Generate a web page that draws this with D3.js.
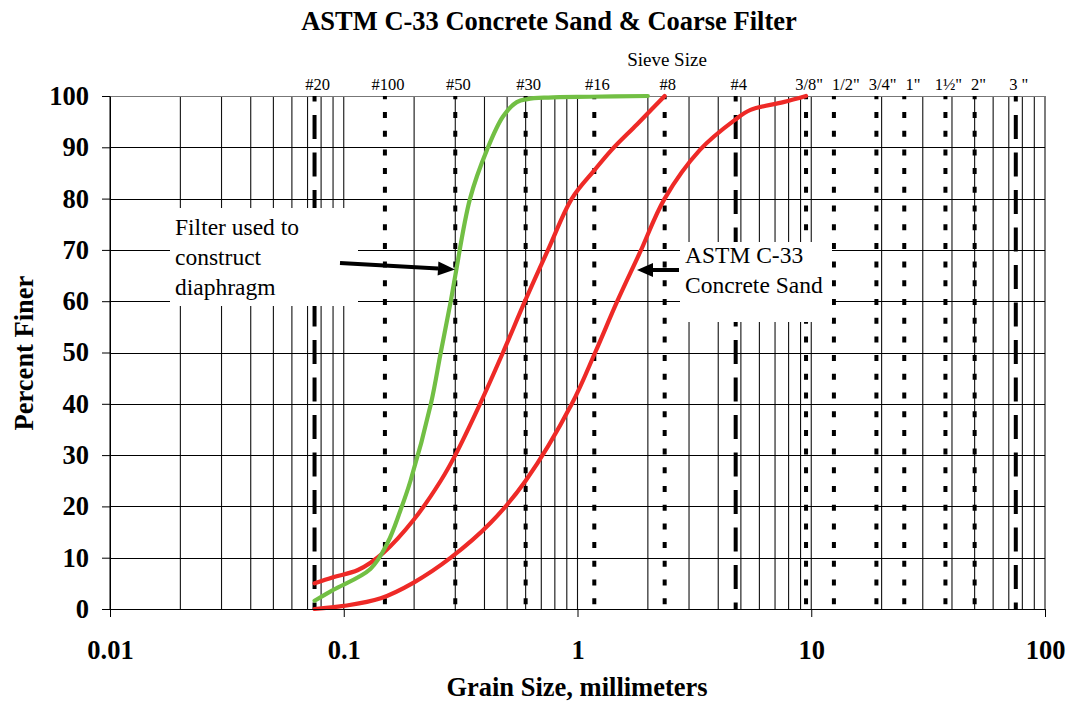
<!DOCTYPE html>
<html>
<head>
<meta charset="utf-8">
<script src="https://cdn.jsdelivr.net/npm/d3@7"></script>
<style>
  html, body { margin: 0; padding: 0; background: #fff; }
  svg { display: block; }
</style>
</head>
<body>
<svg id="chart" width="1068" height="711"></svg>
<script>
// ---------------- data ----------------
const title = "ASTM C-33 Concrete Sand & Coarse Filter";
const xTitle = "Grain Size, millimeters";
const yTitle = "Percent Finer";
const sieveTitle = "Sieve Size";

const xTickValues = [0.01, 0.1, 1, 10, 100];
const xTickLabels = ["0.01", "0.1", "1", "10", "100"];
const yTickValues = [0, 10, 20, 30, 40, 50, 60, 70, 80, 90, 100];

// sieve openings (mm), labels and line style
const sieveSizes  = [0.075, 0.15, 0.3, 0.6, 1.18, 2.36, 4.75, 9.5, 12.5, 19, 25, 37.5, 50, 75];
const sieveLabels = ["#20", "#100", "#50", "#30", "#16", "#8", "#4", "3/8\"", "1/2\"", "3/4\"", "1\"", "1½\"", "2\"", "3 \""];
const sieveStyle  = ["long", "dot", "dot", "dot", "dot", "dot", "long", "dot", "dot", "dot", "dot", "dot", "dot", "long"];

// Filter used to construct diaphragm (green)
const filterSize    = [0.075, 0.09, 0.13, 0.154, 0.175, 0.193, 0.236, 0.26, 0.287, 0.3, 0.347, 0.41, 0.48, 0.55, 0.61, 0.75, 1.13, 2.0];
const filterPercent = [1.6, 3.7, 7.8, 12.9, 19.3, 25, 40, 50, 60, 65, 80, 89.5, 96, 98.8, 99.4, 99.7, 99.85, 100];

// ASTM C-33 concrete sand, fine limit (red)
const c33FineSize    = [0.075, 0.09, 0.115, 0.148, 0.2, 0.26, 0.3, 0.383, 0.48, 0.596, 0.748, 0.946, 1.18, 1.4, 1.8, 2.36];
const c33FinePercent = [5, 6.2, 7.6, 11, 17.5, 25, 30, 40, 50, 60, 70, 80, 85.5, 89.5, 94.5, 100];

// ASTM C-33 concrete sand, coarse limit (red)
const c33CoarseSize    = [0.075, 0.1, 0.144, 0.2, 0.287, 0.425, 0.6, 0.946, 1.19, 1.48, 1.85, 2.36, 3.34, 4.7, 5.5, 7.6, 9.5];
const c33CoarsePercent = [0, 0.6, 2.1, 5.2, 10, 16.8, 25, 40, 50, 60, 69.5, 80, 89.5, 95.3, 97.3, 98.8, 100];

const filterNote = ["Filter used to", "construct", "diaphragm"];
const sandNote = ["ASTM C-33", "Concrete Sand"];

// ---------------- layout ----------------
const FONT = "'Liberation Serif', 'Times New Roman', Times, 'DejaVu Serif', serif";
const svg = d3.select("#chart").attr("font-family", FONT);
const pLeft = 110, pRight = 1045, pTop = 96, pBottom = 609;
const x = d3.scaleLog().domain([0.01, 100]).range([pLeft, pRight]);
const y = d3.scaleLinear().domain([0, 100]).range([pBottom, pTop]);

svg.append("rect").attr("width", 1068).attr("height", 711).attr("fill", "#fff");

// vertical log gridlines
const vGrid = [];
for (let k = -2; k <= 1; k++) for (let m = 1; m <= 9; m++) vGrid.push(m * Math.pow(10, k));
vGrid.push(100);
svg.append("g").selectAll("line").data(vGrid).join("line")
  .attr("x1", d => x(d)).attr("x2", d => x(d))
  .attr("y1", pTop).attr("y2", pBottom)
  .attr("stroke", "#111").attr("stroke-width", 1.1);

// horizontal gridlines
svg.append("g").selectAll("line").data(yTickValues).join("line")
  .attr("x1", pLeft).attr("x2", pRight)
  .attr("y1", d => Math.round(y(d)) + 0.5).attr("y2", d => Math.round(y(d)) + 0.5)
  .attr("stroke", d => d === 100 ? "#777" : "#000").attr("stroke-width", 1);

// sieve lines
const sieves = sieveSizes.map((s, i) => ({ s, label: sieveLabels[i], style: sieveStyle[i] }));
svg.append("g").selectAll("line").data(sieves).join("line")
  .attr("x1", d => x(d.s)).attr("x2", d => x(d.s))
  .attr("y1", pTop).attr("y2", pBottom)
  .attr("stroke", "#000").attr("stroke-width", 4)
  .attr("stroke-dasharray", d => d.style === "long" ? "24,13.5" : "6,12.7")
  .attr("stroke-dashoffset", d => d.style === "long" ? 18.5 : 2.7);

// sieve labels (nudged right when they would collide)
const labels = svg.append("g").selectAll("text").data(sieves).join("text")
  .attr("x", d => x(d.s) + 3).attr("y", 90)
  .attr("text-anchor", "middle").attr("font-size", 16.5).attr("font-family", FONT)
  .text(d => d.label);
let prevEnd = -Infinity;
labels.each(function () {
  const b = this.getBBox();
  let shift = 0;
  if (b.x < prevEnd + 9) shift = prevEnd + 9 - b.x;
  if (shift > 0) d3.select(this).attr("x", +d3.select(this).attr("x") + shift);
  prevEnd = b.x + b.width + shift;
});
svg.append("text").attr("x", 667).attr("y", 66).attr("text-anchor", "middle")
  .attr("font-size", 19).attr("font-family", FONT).text(sieveTitle);

// annotation boxes
svg.append("rect").attr("x", 170).attr("y", 208).attr("width", 188).attr("height", 98).attr("fill", "#fff");
svg.append("rect").attr("x", 680).attr("y", 242).attr("width", 152).attr("height", 80).attr("fill", "#fff");

// curves
const line = d3.line().x(d => x(d[0])).y(d => y(d[1])).curve(d3.curveCatmullRom.alpha(0.5));
const curves = [
  { sizes: c33FineSize, pct: c33FinePercent, color: "#ee2a27" },
  { sizes: c33CoarseSize, pct: c33CoarsePercent, color: "#ee2a27" },
  { sizes: filterSize, pct: filterPercent, color: "#72bf44" }
];
svg.append("g").selectAll("path").data(curves).join("path")
  .attr("d", c => line(c.sizes.map((s, i) => [s, c.pct[i]])))
  .attr("fill", "none").attr("stroke", c => c.color)
  .attr("stroke-width", 4.2).attr("stroke-linecap", "round").attr("stroke-linejoin", "round");

// arrows
function arrow(x1, y1, x2, y2, hl, hw) {
  const a = Math.atan2(y2 - y1, x2 - x1);
  const bx = x2 - hl * Math.cos(a), by = y2 - hl * Math.sin(a);
  svg.append("line").attr("x1", x1).attr("y1", y1).attr("x2", bx).attr("y2", by)
    .attr("stroke", "#000").attr("stroke-width", 4);
  const px = -Math.sin(a) * hw / 2, py = Math.cos(a) * hw / 2;
  svg.append("path")
    .attr("d", `M${x2},${y2}L${bx + px},${by + py}L${bx - px},${by - py}Z`)
    .attr("fill", "#000");
}
arrow(340, 263, 455, 269.5, 17, 14);
arrow(679, 270, 637, 270, 16, 14);

// annotation text
svg.append("g").selectAll("text").data(filterNote).join("text")
  .attr("x", 175).attr("y", (d, i) => 235 + i * 30)
  .attr("font-size", 23.5).attr("font-family", FONT).attr("font-weight", "normal").text(d => d);
svg.append("g").selectAll("text").data(sandNote).join("text")
  .attr("x", 685).attr("y", (d, i) => 263 + i * 30)
  .attr("font-size", 23.5).attr("font-family", FONT).attr("font-weight", "normal").text(d => d);

// axes
const yAxis = d3.axisLeft(y).tickValues(yTickValues).tickSize(8).tickSizeOuter(0).tickPadding(13);
const gy = svg.append("g").attr("transform", `translate(${pLeft},0)`).call(yAxis);
const xAxis = d3.axisBottom(x).tickValues(xTickValues).tickFormat((d, i) => xTickLabels[i])
  .tickSize(8).tickSizeOuter(0).tickPadding(23);
const gx = svg.append("g").attr("transform", `translate(0,${pBottom})`).call(xAxis);
[gx, gy].forEach(g => {
  g.attr("font-family", FONT);
  g.select(".domain").attr("stroke", "#000");
  g.selectAll(".tick line").attr("stroke", "#000");
  g.selectAll(".tick text").attr("font-family", FONT)
    .attr("font-size", 26.5).attr("font-weight", "bold").attr("fill", "#000");
});

// titles
svg.append("text").attr("x", 549).attr("y", 30).attr("text-anchor", "middle").attr("font-family", FONT)
  .attr("font-size", 26.5).attr("font-weight", "bold").text(title);
svg.append("text").attr("x", 577).attr("y", 696).attr("text-anchor", "middle").attr("font-family", FONT)
  .attr("font-size", 26.5).attr("font-weight", "bold").text(xTitle);
svg.append("text").attr("transform", "translate(33,353) rotate(-90)").attr("text-anchor", "middle").attr("font-family", FONT)
  .attr("font-size", 26.5).attr("font-weight", "bold").text(yTitle);
</script>
</body>
</html>
